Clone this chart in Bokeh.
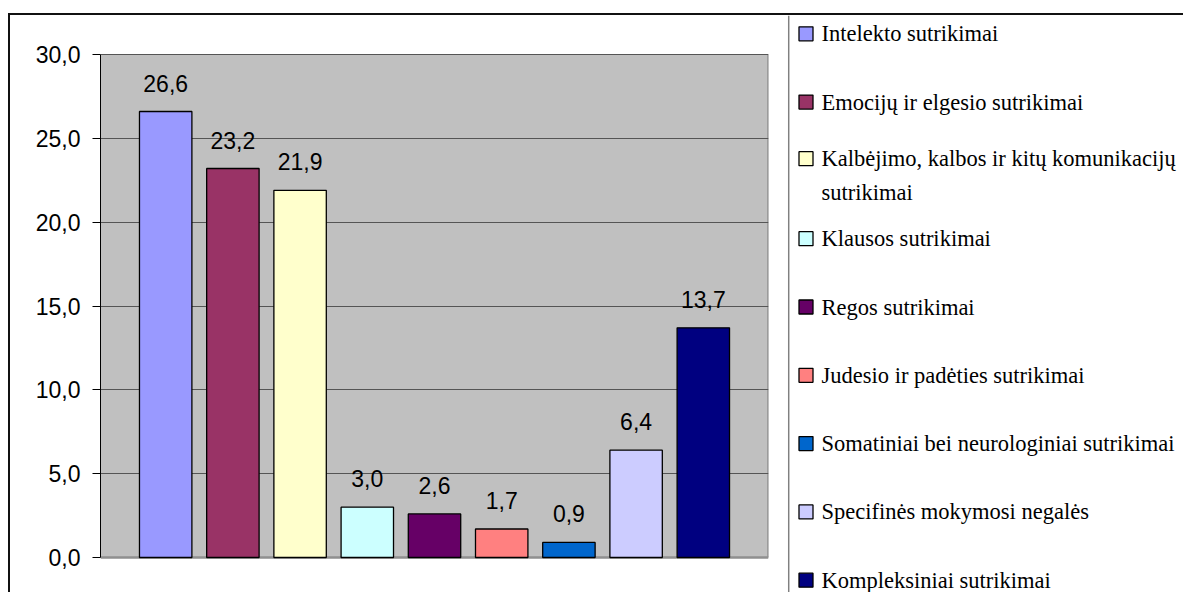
from bokeh.plotting import figure
from bokeh.models import Range1d, FixedTicker, LabelSet, ColumnDataSource
from bokeh.layouts import row
from bokeh.embed import file_html
from bokeh.resources import INLINE
from bokeh.core.properties import value

# ---- data ----
categories = [
    "Intelekto sutrikimai",
    "Emocijų ir elgesio sutrikimai",
    "Kalbėjimo, kalbos ir kitų komunikacijų sutrikimai",
    "Klausos sutrikimai",
    "Regos sutrikimai",
    "Judesio ir padėties sutrikimai",
    "Somatiniai bei neurologiniai sutrikimai",
    "Specifinės mokymosi negalės",
    "Kompleksiniai sutrikimai",
]
values = [26.6, 23.2, 21.9, 3.0, 2.6, 1.7, 0.9, 6.4, 13.7]
colors = ["#9999FF", "#993366", "#FFFFCC", "#CCFFFF", "#660066",
          "#FF8080", "#0066CC", "#CCCCFF", "#000080"]
tick_values = [0, 5, 10, 15, 20, 25, 30]
tick_labels = ["0,0", "5,0", "10,0", "15,0", "20,0", "25,0", "30,0"]
# legend labels (third one wraps onto two lines)
legend_labels = [
    "Intelekto sutrikimai",
    "Emocijų ir elgesio sutrikimai",
    "Kalbėjimo, kalbos ir kitų komunikacijų\nsutrikimai",
    "Klausos sutrikimai",
    "Regos sutrikimai",
    "Judesio ir padėties sutrikimai",
    "Somatiniai bei neurologiniai sutrikimai",
    "Specifinės mokymosi negalės",
    "Kompleksiniai sutrikimai",
]

SANS = "Liberation Sans"
SERIF = "Liberation Serif"

FIG_H = 577
PLOT_TOP_PX, PLOT_BOTTOM_PX = 39, 542   # plot area inside figure (px from top)
ymin, ymax = tick_values[0], tick_values[-1]
ppu = (PLOT_BOTTOM_PX - PLOT_TOP_PX) / (ymax - ymin)
y_lo = ymin - (FIG_H - PLOT_BOTTOM_PX) / ppu
y_hi = ymax + PLOT_TOP_PX / ppu

# ---- main chart ----
src = ColumnDataSource(dict(
    x=list(range(len(values))),
    top=values,
    color=colors,
    label=[f"{v:.1f}".replace(".", ",") for v in values],
))

x_lo, x_hi = -0.97, len(values) - 1 + 0.97
p = figure(width=777, height=FIG_H,
           x_range=Range1d(x_lo, x_hi),
           y_range=Range1d(y_lo, y_hi),
           x_axis_type=None,
           output_backend="svg", toolbar_location=None,
           min_border_left=90, min_border_right=19,
           min_border_top=0, min_border_bottom=0)
p.background_fill_color = "white"
p.border_fill_color = "white"
p.outline_line_color = None

# plot-area background
p.quad(left=[x_lo], right=[x_hi], bottom=[ymin], top=[ymax],
       fill_color="#C0C0C0", line_color=None, level="image")

ax = p.yaxis[0]
ax.ticker = FixedTicker(ticks=tick_values)
ax.bounds = (ymin, ymax)
ax.major_label_overrides = {t: l for t, l in zip(tick_values, tick_labels)}
ax.minor_tick_line_color = None
ax.major_tick_out = 8
ax.major_tick_in = 0
ax.axis_line_color = "black"
ax.major_tick_line_color = "black"
ax.major_label_text_font = SANS
ax.major_label_text_font_size = "23px"
ax.major_label_text_color = "black"
ax.major_label_standoff = 12

p.ygrid.ticker = FixedTicker(ticks=tick_values[1:])
p.ygrid.grid_line_color = "#555555"
p.ygrid.grid_line_width = 1

# plot-area border (right and bottom, grey)
p.segment(x0=[x_hi, x_lo], y0=[ymin, ymin], x1=[x_hi, x_hi], y1=[ymax, ymin],
          line_color="#8f8f8f", line_width=2.5, level="underlay")

p.vbar(x="x", top="top", width=0.78, fill_color="color",
       line_color="black", line_width=1.3, source=src)

labels = LabelSet(x="x", y="top", text="label", source=src,
                  text_align="center", text_baseline="alphabetic",
                  y_offset=20, text_font=value(SANS),
                  text_font_size="23px", text_color="black")
p.add_layout(labels)

# ---- legend panel ----
LEG_W = 396
leg = figure(width=LEG_W, height=FIG_H,
             x_range=Range1d(0, LEG_W), y_range=Range1d(FIG_H, 0),
             x_axis_type=None, y_axis_type=None, min_border=0,
             output_backend="svg", toolbar_location=None)
leg.outline_line_color = None
leg.background_fill_color = "white"
leg.border_fill_color = "white"

leg.segment(x0=[1.2], y0=[0], x1=[1.2], y1=[FIG_H],
            line_color="#808080", line_width=1.5)

SLOT0, STEP, LINE_H = 18.3, 68.3, 33.4
mx, my, tx, ty, tt = [], [], [], [], []
for i, lab in enumerate(legend_labels):
    lines = lab.split("\n")
    n = len(lines)
    slot = SLOT0 + STEP * i
    first = slot - (n - 1) * LINE_H / 2 + (n - 1) * 5
    mx.append(18.5)
    my.append(first)
    for k, ln in enumerate(lines):
        tx.append(34)
        ty.append(first + k * LINE_H)
        tt.append(ln)

leg.rect(x=mx, y=my, width=14, height=14, fill_color=colors,
         line_color="black", line_width=1.3)
leg.text(x=tx, y=ty, text=tt, text_font=value(SERIF),
         text_font_size="22.5px", text_baseline="middle",
         text_align="left", text_color="black")

layout = row(p, leg, margin=(13, 0, 0, 8),
             styles={"border-top": "2px solid #111111",
                     "border-left": "2px solid #111111"})

open("out.html", "w").write(file_html(layout, INLINE))
